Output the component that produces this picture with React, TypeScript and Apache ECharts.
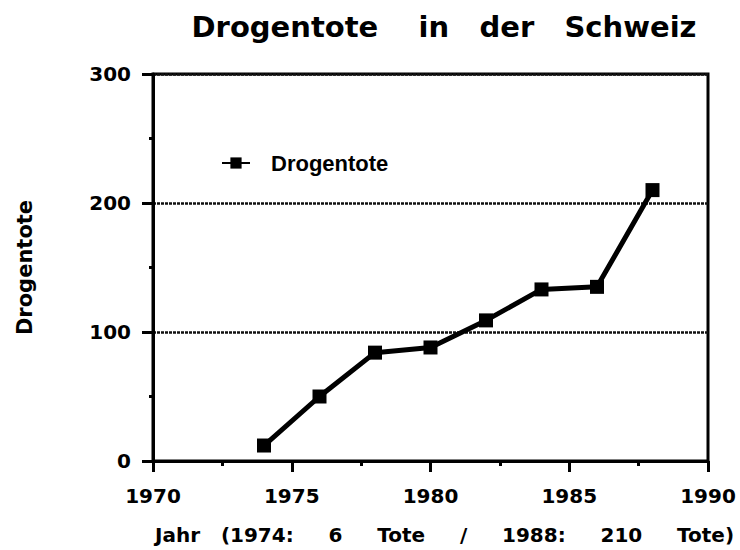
import React, { useEffect, useRef } from "react";
import * as echarts from "echarts";

const years: number[] = [1974, 1976, 1978, 1980, 1982, 1984, 1986, 1988];
const deaths: number[] = [12, 50, 84, 88, 109, 133, 135, 210];
const seriesName = "Drogentote";
const titleText = "Drogentote    in   der   Schweiz";
const xName = "Jahr   (1974:     6     Tote     /     1988:     210     Tote)";
const yName = "Drogentote";

const FONT = "DejaVu Sans";

export default function App() {
  const ref = useRef<HTMLDivElement>(null);
  useEffect(() => {
    if (!ref.current) return;
    const chart = echarts.init(ref.current, null, { renderer: "svg" });
    chart.setOption({
      animation: false,
      backgroundColor: "#ffffff",
      title: {
        text: titleText,
        left: 439,
        textAlign: "center",
        top: 7,
        textStyle: { fontFamily: FONT, fontWeight: "bold", fontSize: 29, color: "#000" },
      },
      legend: {
        left: 216,
        top: 147,
        itemWidth: 28,
        itemHeight: 14,
        data: [seriesName],
        textStyle: {
          fontFamily: "Liberation Sans",
          fontWeight: "bold",
          fontSize: 22,
          color: "#000",
          padding: [0, 0, 0, 16],
        },
      },
      grid: {
        left: 153,
        right: 32,
        top: 74,
        bottom: 85,
        show: true,
        borderColor: "#000",
        borderWidth: 3,
        backgroundColor: "transparent",
      },
      xAxis: {
        type: "value",
        min: 1970,
        max: 1990,
        interval: 5,
        name: xName,
        nameLocation: "middle",
        nameGap: 64,
        nameTextStyle: {
          fontFamily: FONT,
          fontWeight: "bold",
          fontSize: 20,
          color: "#000",
          padding: [0, 0, 0, 28],
        },
        axisLine: { show: true, lineStyle: { color: "#000", width: 3 } },
        axisTick: { show: true, inside: false, length: 11, lineStyle: { color: "#000", width: 3 } },
        minorTick: { show: true, splitNumber: 2, length: 5, lineStyle: { color: "#000", width: 3 } },
        splitLine: { show: false },
        axisLabel: {
          margin: 25,
          fontFamily: FONT,
          fontWeight: "bold",
          fontSize: 20,
          color: "#000",
          formatter: (v: number) => String(v),
        },
      },
      yAxis: {
        type: "value",
        min: 0,
        max: 300,
        interval: 100,
        name: yName,
        nameLocation: "middle",
        nameRotate: 90,
        nameGap: 118,
        nameTextStyle: { fontFamily: FONT, fontWeight: "bold", fontSize: 21, color: "#000" },
        axisLine: { show: true, lineStyle: { color: "#000", width: 3 } },
        axisTick: { show: true, inside: false, length: 11, lineStyle: { color: "#000", width: 3 } },
        minorTick: { show: true, splitNumber: 2, length: 4, lineStyle: { color: "#000", width: 3 } },
        splitLine: { show: true, lineStyle: { color: "#111", width: 2.5, type: [3, 1] } },
        axisLabel: {
          margin: 22,
          fontFamily: FONT,
          fontWeight: "bold",
          fontSize: 20,
          color: "#000",
        },
      },
      series: [
        {
          name: seriesName,
          type: "line",
          data: years.map((y, i) => [y, deaths[i]]),
          symbol: "rect",
          symbolSize: 14,
          lineStyle: { color: "#000", width: 5 },
          itemStyle: { color: "#000" },
        },
      ],
    });
    return () => chart.dispose();
  }, []);
  return <div ref={ref} style={{ width: 740, height: 550, position: "absolute", left: 0, top: 0 }} />;
}
